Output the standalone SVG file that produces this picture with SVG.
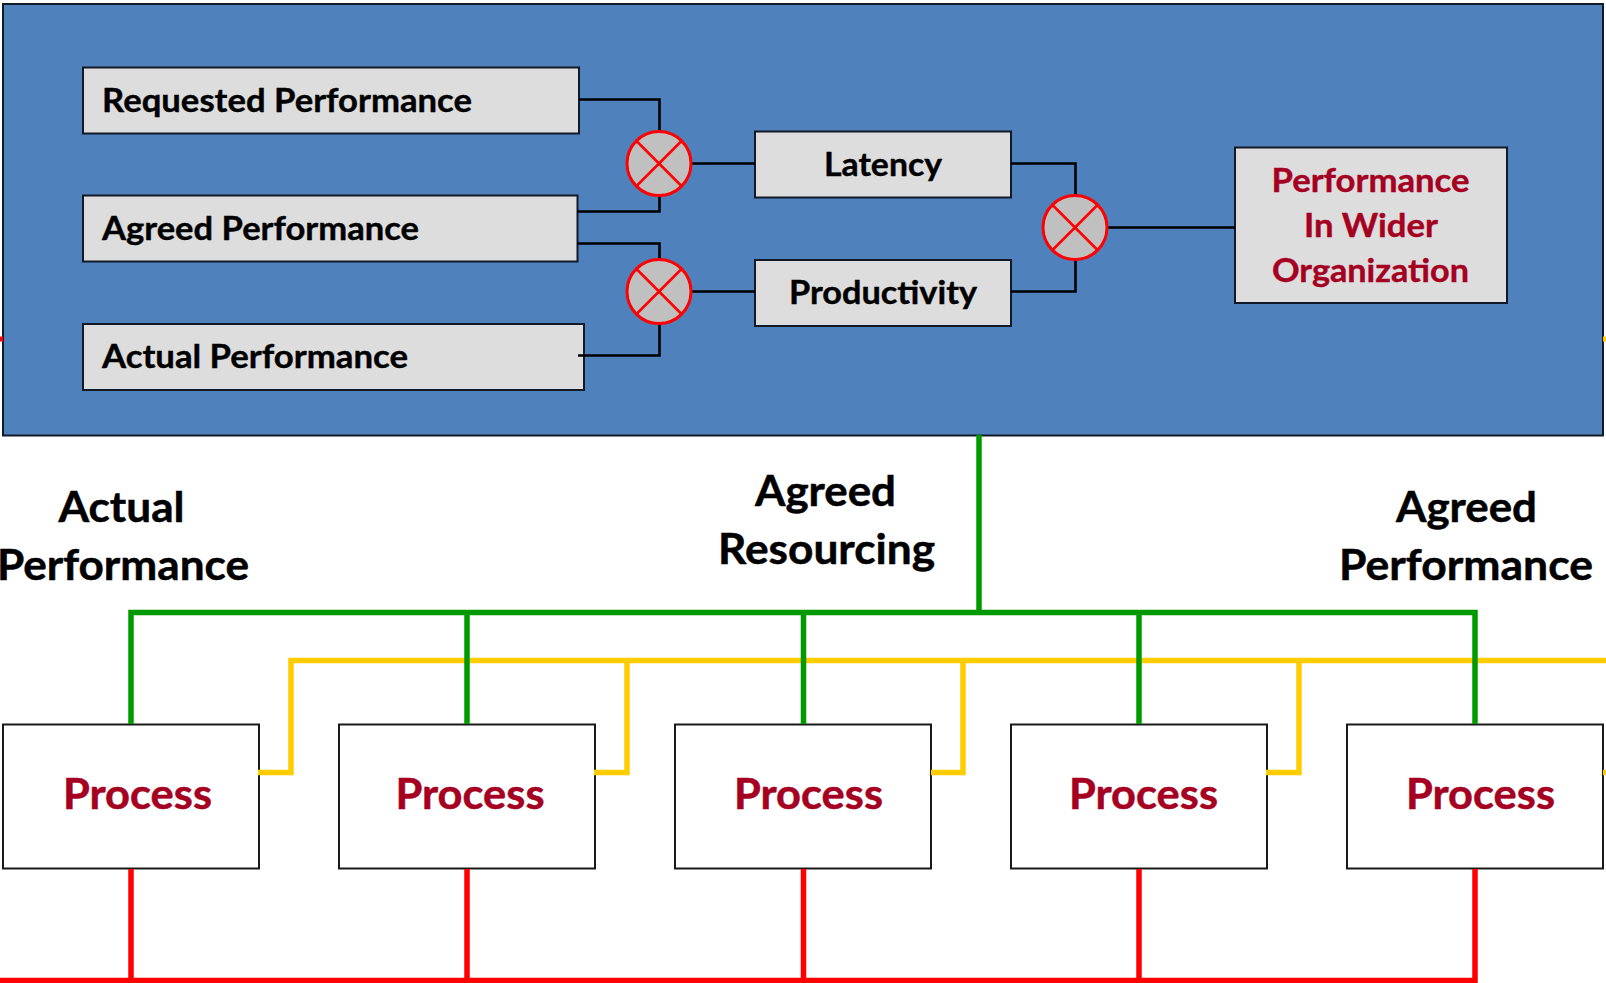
<svg xmlns="http://www.w3.org/2000/svg" width="1606" height="983" viewBox="0 0 1606 983">
<style>
.box{fill:#dddddd;stroke:#111a26;stroke-width:2}
.proc{fill:#ffffff;stroke:#1a1a1a;stroke-width:2}
.mix ellipse{fill:#c0c0c0;stroke:#ff0000;stroke-width:3}
.mix path{fill:none;stroke:#ff0000;stroke-width:2.5}
.k{fill:none;stroke:#000000;stroke-width:2.6}
.g{fill:none;stroke:#009900;stroke-width:5.5}
.y{fill:none;stroke:#ffcc00;stroke-width:5.5}
.r{fill:none;stroke:#ff0000;stroke-width:5.5}
text{font-family:"Lato","Liberation Sans",sans-serif;font-weight:700}
.s{font-size:32px;fill:#000000;stroke:#000000;stroke-width:.4}
.c{font-size:32px;fill:#a50021;stroke:#a50021;stroke-width:.4}
.l{font-size:42px;fill:#000000;stroke:#000000;stroke-width:.5}
.p{font-size:42px;fill:#a50021;stroke:#a50021;stroke-width:.5}
</style>
<rect id="panel" x="3" y="4" width="1600" height="431.5" fill="#4f81bd" stroke="#111a26" stroke-width="2"/>
<g id="requested"><rect class="box" x="83" y="67.5" width="496" height="66"/><text class="s" x="102" y="111.5" textLength="370" lengthAdjust="spacingAndGlyphs">Requested Performance</text></g>
<g id="agreed"><rect class="box" x="83" y="195.5" width="494.5" height="66"/><text class="s" x="102" y="239.5" textLength="317" lengthAdjust="spacingAndGlyphs">Agreed Performance</text></g>
<g id="actual"><rect class="box" x="83" y="324" width="501" height="66"/><text class="s" x="102" y="367.5" textLength="306" lengthAdjust="spacingAndGlyphs">Actual Performance</text></g>
<g id="latency"><rect class="box" x="755" y="131.5" width="256" height="66"/><text class="s" x="824" y="175.5" textLength="118" lengthAdjust="spacingAndGlyphs">Latency</text></g>
<g id="productivity"><rect class="box" x="755" y="260" width="256" height="66"/><text class="s" x="789" y="303.5" textLength="188" lengthAdjust="spacingAndGlyphs">Productivity</text></g>
<g id="wider"><rect class="box" x="1235" y="147.5" width="272" height="155.5"/><text class="c" x="1271.5" y="191.5" textLength="198" lengthAdjust="spacingAndGlyphs">Performance</text><text class="c" x="1304" y="236.5" textLength="134" lengthAdjust="spacingAndGlyphs">In Wider</text><text class="c" x="1272" y="281.5" textLength="197" lengthAdjust="spacingAndGlyphs">Organization</text></g>
<g id="label-actual"><text class="l" x="58.5" y="521.5" textLength="126" lengthAdjust="spacingAndGlyphs">Actual</text><text class="l" x="-3" y="580" textLength="252" lengthAdjust="spacingAndGlyphs">Performance</text></g>
<g id="label-resourcing"><text class="l" x="755" y="505.5" textLength="141" lengthAdjust="spacingAndGlyphs">Agreed</text><text class="l" x="718" y="564" textLength="217" lengthAdjust="spacingAndGlyphs">Resourcing</text></g>
<g id="label-agreed"><text class="l" x="1396" y="521.5" textLength="141" lengthAdjust="spacingAndGlyphs">Agreed</text><text class="l" x="1339" y="580" textLength="254" lengthAdjust="spacingAndGlyphs">Performance</text></g>
<g id="process1"><rect class="proc" x="3" y="724.5" width="256" height="144"/><text class="p" x="63" y="809" textLength="149" lengthAdjust="spacingAndGlyphs">Process</text></g>
<g id="process2"><rect class="proc" x="339" y="724.5" width="256" height="144"/><text class="p" x="395.5" y="809" textLength="149" lengthAdjust="spacingAndGlyphs">Process</text></g>
<g id="process3"><rect class="proc" x="675" y="724.5" width="256" height="144"/><text class="p" x="734" y="809" textLength="149" lengthAdjust="spacingAndGlyphs">Process</text></g>
<g id="process4"><rect class="proc" x="1011" y="724.5" width="256" height="144"/><text class="p" x="1069" y="809" textLength="149" lengthAdjust="spacingAndGlyphs">Process</text></g>
<g id="process5"><rect class="proc" x="1347" y="724.5" width="256" height="144"/><text class="p" x="1406" y="809" textLength="149" lengthAdjust="spacingAndGlyphs">Process</text></g>
<g id="connectors">
<path class="k" d="M579 99.5H659.5V132M577 211.5H659.5V195M577 243.5H659.5V260M578 355.5H659.5V323M691 163.5H755M691 291.5H755M1011 163.5H1075.5V196M1011 291.5H1075.5V259M1107 227.5H1235"/>
<path class="y" d="M258 772.5H291V660.5H1606M594 772.5H627V660.5M931 772.5H963V660.5M1266 772.5H1299V660.5M1603 772.5H1606"/>
<path class="g" d="M979 435V612.5M131 724V612.5H1475V724M467 612.5V724M803.5 612.5V724M1139 612.5V724"/>
<path class="r" d="M0 980.5H1475V869M131 869V980M467 869V980M803.5 869V980M1139 869V980"/>
<path d="M0 339H3" stroke="#ff0000" stroke-width="5" fill="none"/>
<path d="M1603 339H1606" stroke="#ffcc00" stroke-width="5" fill="none"/>
</g>
<g id="mix1" class="mix"><ellipse cx="659" cy="163.5" rx="32" ry="32"/><path d="M636.5 141L681.5 186M681.5 141L636.5 186"/></g>
<g id="mix2" class="mix"><ellipse cx="659" cy="291.5" rx="32" ry="32"/><path d="M636.5 269L681.5 314M681.5 269L636.5 314"/></g>
<g id="mix3" class="mix"><ellipse cx="1075" cy="227.5" rx="32" ry="32"/><path d="M1052.5 205L1097.5 250M1097.5 205L1052.5 250"/></g>
</svg>
